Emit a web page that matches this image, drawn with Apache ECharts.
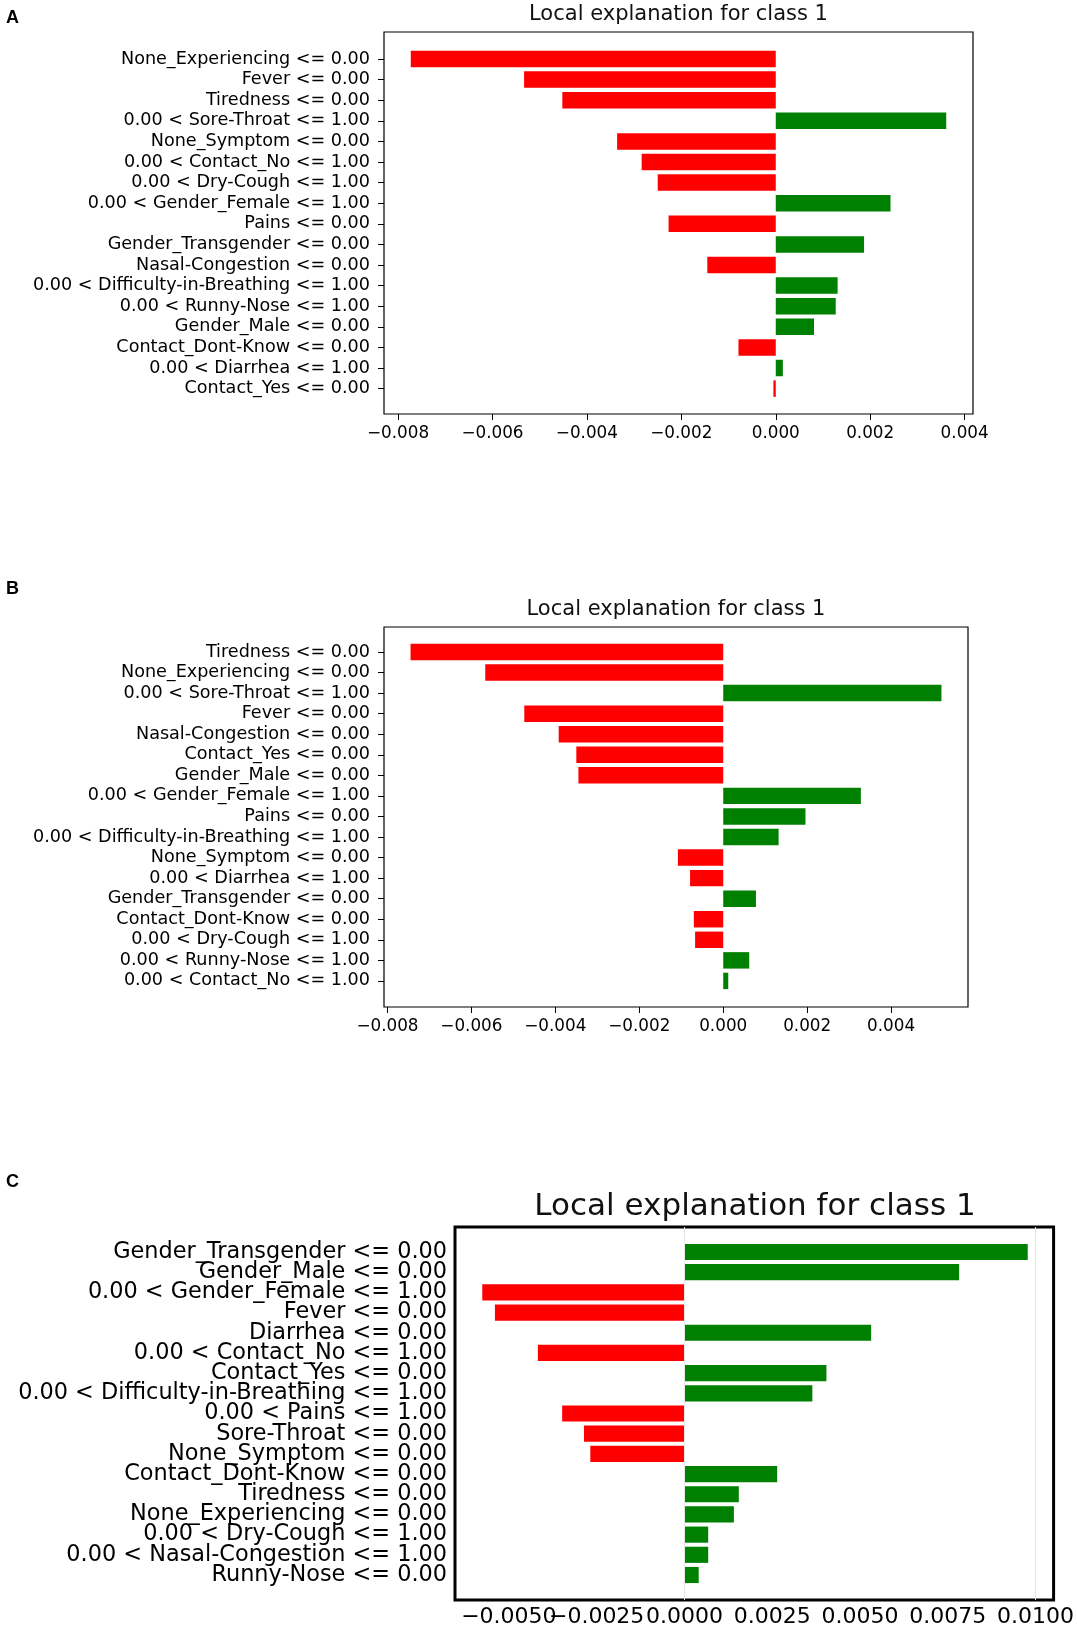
<!DOCTYPE html>
<html>
<head>
<meta charset="utf-8">
<script src="https://cdn.jsdelivr.net/npm/echarts@6/dist/echarts.min.js"></script>
<style>
  body { margin: 0; background: #fff; }
  #chart { width: 1077px; height: 1637px; }
</style>
</head>
<body>
<div id="chart"></div>
<script>
// panel A
const labelsA = [
  'None_Experiencing <= 0.00', 'Fever <= 0.00', 'Tiredness <= 0.00',
  '0.00 < Sore-Throat <= 1.00', 'None_Symptom <= 0.00', '0.00 < Contact_No <= 1.00',
  '0.00 < Dry-Cough <= 1.00', '0.00 < Gender_Female <= 1.00', 'Pains <= 0.00',
  'Gender_Transgender <= 0.00', 'Nasal-Congestion <= 0.00',
  '0.00 < Difficulty-in-Breathing <= 1.00', '0.00 < Runny-Nose <= 1.00',
  'Gender_Male <= 0.00', 'Contact_Dont-Know <= 0.00', '0.00 < Diarrhea <= 1.00',
  'Contact_Yes <= 0.00'
];
const valuesA = [-0.00773, -0.00533, -0.00452, 0.00361, -0.00336, -0.00284, -0.00250, 0.00243,
  -0.00227, 0.00187, -0.00145, 0.00131, 0.00127, 0.00081, -0.00079, 0.00015, -0.00005];
const ticksA = [-0.008, -0.006, -0.004, -0.002, 0, 0.002, 0.004];

// panel B
const labelsB = [
  'Tiredness <= 0.00', 'None_Experiencing <= 0.00', '0.00 < Sore-Throat <= 1.00',
  'Fever <= 0.00', 'Nasal-Congestion <= 0.00', 'Contact_Yes <= 0.00', 'Gender_Male <= 0.00',
  '0.00 < Gender_Female <= 1.00', 'Pains <= 0.00', '0.00 < Difficulty-in-Breathing <= 1.00',
  'None_Symptom <= 0.00', '0.00 < Diarrhea <= 1.00', 'Gender_Transgender <= 0.00',
  'Contact_Dont-Know <= 0.00', '0.00 < Dry-Cough <= 1.00', '0.00 < Runny-Nose <= 1.00',
  '0.00 < Contact_No <= 1.00'
];
const valuesB = [-0.00745, -0.00567, 0.00520, -0.00474, -0.00392, -0.00350, -0.00345, 0.00328,
  0.00196, 0.00132, -0.00108, -0.00079, 0.00078, -0.00070, -0.00067, 0.00062, 0.00012];
const ticksB = [-0.008, -0.006, -0.004, -0.002, 0, 0.002, 0.004];

// panel C
const labelsC = [
  'Gender_Transgender <= 0.00', 'Gender_Male <= 0.00', '0.00 < Gender_Female <= 1.00',
  'Fever <= 0.00', 'Diarrhea <= 0.00', '0.00 < Contact_No <= 1.00', 'Contact_Yes <= 0.00',
  '0.00 < Difficulty-in-Breathing <= 1.00', '0.00 < Pains <= 1.00', 'Sore-Throat <= 0.00',
  'None_Symptom <= 0.00', 'Contact_Dont-Know <= 0.00', 'Tiredness <= 0.00',
  'None_Experiencing <= 0.00', '0.00 < Dry-Cough <= 1.00', '0.00 < Nasal-Congestion <= 1.00',
  'Runny-Nose <= 0.00'
];
const valuesC = [0.00974, 0.00779, -0.00576, -0.00540, 0.00529, -0.00418, 0.00402, 0.00362,
  -0.00349, -0.00287, -0.00269, 0.00262, 0.00153, 0.00139, 0.00066, 0.00066, 0.00039];
const ticksC = [-0.005, -0.0025, 0, 0.0025, 0.005, 0.0075, 0.01];

const titleText = 'Local explanation for class 1';
const FONT = 'DejaVu Sans';

// like matplotlib: 5% margin around the data (bars start at 0)
function extent(vals) {
  const lo = Math.min(0, ...vals), hi = Math.max(0, ...vals);
  const pad = (hi - lo) * 0.05;
  return [lo - pad, hi + pad];
}

const panels = [
  { letter: 'A', labels: labelsA, values: valuesA, ticks: ticksA, digits: 3,
    box: { left: 384, top: 32, width: 589, height: 382 }, inner: { top: 48.7, height: 350.2 },
    font: 17.6, tickFont: 16.8, border: 1.2, ticksOn: true, yMargin: 14, xMargin: 11,
    grid: false, titleSize: 21, titleY: 15, letterY: 18 },
  { letter: 'B', labels: labelsB, values: valuesB, ticks: ticksB, digits: 3,
    box: { left: 384, top: 627, width: 584, height: 380 }, inner: { top: 641.7, height: 349.5 },
    font: 17.6, tickFont: 16.8, border: 1.2, ticksOn: true, yMargin: 14, xMargin: 11,
    grid: false, titleSize: 21, titleY: 610, letterY: 589 },
  { letter: 'C', labels: labelsC, values: valuesC, ticks: ticksC, digits: 4,
    box: { left: 455, top: 1227, width: 600, height: 373 }, inner: { top: 1241.9, height: 343.2 },
    font: 22.4, tickFont: 22, border: 3, ticksOn: false, yMargin: 8, xMargin: 6,
    grid: true, titleSize: 31, titleY: 1207, letterY: 1182 }
];

const grids = [], xAxes = [], yAxes = [], series = [], texts = [];

panels.forEach((p, i) => {
  const [lo, hi] = extent(p.values);
  const fi = i * 2, di = i * 2 + 1;
  grids.push({ left: p.box.left, top: p.box.top, width: p.box.width, height: p.box.height,
    show: true, borderColor: '#000', borderWidth: p.border, backgroundColor: 'transparent' });
  grids.push({ left: p.box.left, top: p.inner.top, width: p.box.width, height: p.inner.height });

  // ticks split over two overlapping bottom axes so that crowded labels are all kept
  const tickSets = [p.ticks.filter((t, k) => k % 2 === 0), p.ticks.filter((t, k) => k % 2 === 1)];
  const frameAxisIdx = xAxes.length;
  tickSets.forEach(ts => {
    xAxes.push({
      gridIndex: fi, type: 'value', min: lo, max: hi, position: 'bottom', offset: 0,
      axisLine: { show: false, onZero: false },
      axisTick: { show: p.ticksOn, customValues: ts, length: 6, lineStyle: { color: '#000' } },
      axisLabel: {
        customValues: ts, margin: p.xMargin, color: '#000', fontFamily: FONT, fontSize: p.tickFont,
        hideOverlap: false,
        formatter: v => v.toFixed(p.digits).replace('-', '\u2212')
      },
      splitLine: { show: false }
    });
  });
  const frameYIdx = yAxes.length;
  yAxes.push({ gridIndex: fi, type: 'value', min: 0, max: 1, show: false });

  const dataXIdx = xAxes.length;
  xAxes.push({ gridIndex: di, type: 'value', min: lo, max: hi, show: false });
  const dataYIdx = yAxes.length;
  yAxes.push({
    gridIndex: di, type: 'category', data: p.labels, inverse: true,
    axisLine: { show: false, onZero: false },
    axisTick: { show: p.ticksOn, alignWithLabel: true, interval: 0, length: 6, lineStyle: { color: '#000' } },
    axisLabel: { interval: 0, margin: p.yMargin, color: '#000', fontFamily: FONT, fontSize: p.font },
    splitLine: { show: false }
  });

  // faint vertical grid lines (panel C only), placed at the tick values
  if (p.grid) {
    series.push({
      type: 'line', xAxisIndex: frameAxisIdx, yAxisIndex: frameYIdx, data: [], silent: true, animation: false,
      markLine: {
        silent: true, symbol: 'none', label: { show: false },
        lineStyle: { color: '#e6e6e6', width: 1, type: 'solid' },
        data: p.ticks.map(t => ({ xAxis: t }))
      }
    });
  }

  series.push({
    type: 'bar', xAxisIndex: dataXIdx, yAxisIndex: dataYIdx, data: p.values,
    barCategoryGap: '20%', animation: false,
    itemStyle: { color: prm => (prm.value > 0 ? '#008000' : '#ff0000') }
  });

  texts.push({
    type: 'text', x: p.box.left + p.box.width / 2, y: p.titleY,
    style: { text: titleText, fontFamily: FONT, fontSize: p.titleSize, fill: '#111',
      textAlign: 'center', textVerticalAlign: 'middle' }
  });
  texts.push({
    type: 'text', x: 6, y: p.letterY,
    style: { text: p.letter, fontFamily: 'Liberation Sans', fontWeight: 'bold', fontSize: 18,
      fill: '#000', textAlign: 'left', textVerticalAlign: 'middle' }
  });
});

const myChart = echarts.init(document.getElementById('chart'), null, { renderer: 'canvas' });
myChart.setOption({
  animation: false,
  backgroundColor: '#fff',
  grid: grids,
  xAxis: xAxes,
  yAxis: yAxes,
  series: series,
  graphic: texts
});
</script>
</body>
</html>
